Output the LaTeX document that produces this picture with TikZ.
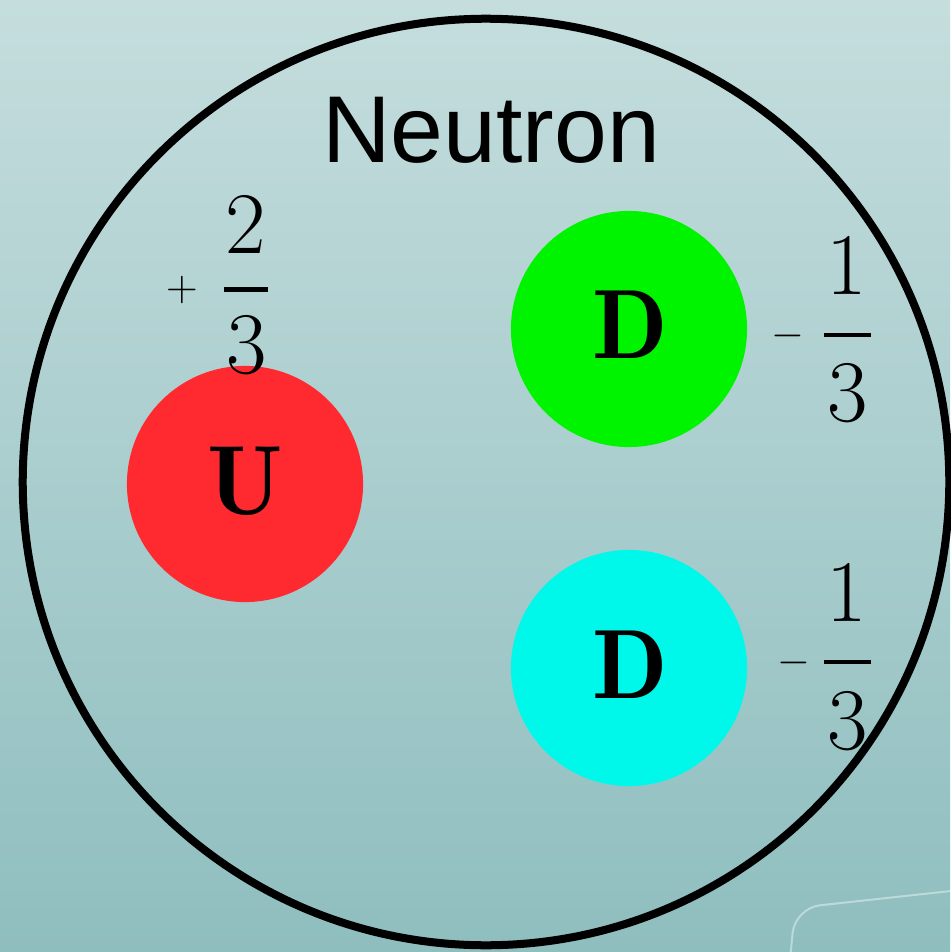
\documentclass[tikz,border=0pt]{standalone}
\usepackage{fontspec}
\newfontfamily\helv{Liberation Sans}
\newfontfamily\qfont{lmromandemi10-regular.otf}
\definecolor{bgtop}{RGB}{197,221,221}
\definecolor{bgmid}{RGB}{186,214,214}
\definecolor{bgbot}{RGB}{143,190,191}
\definecolor{qred}{RGB}{255,42,48}
\definecolor{qgreen}{RGB}{0,244,0}
\definecolor{qcyan}{RGB}{0,248,235}
\tikzset{
  quark/.style={circle, inner sep=0pt, minimum size=2.36cm},
  qletter/.style={inner sep=0pt, font=\qfont\fontsize{28}{31}\selectfont},
  digit/.style={inner sep=0pt, font=\fontsize{25}{28}\selectfont},
  sign/.style={inner sep=0pt, font=\fontsize{13}{15}\selectfont},
  fracbar/.style={line width=0.045cm},
  shell/.style={draw=black, line width=0.08cm}
}
\begin{document}
\begin{tikzpicture}[x=0.01cm,y=-0.01cm]
\useasboundingbox (0,0) rectangle (950,952);
\shade[top color=bgtop, middle color=bgmid, bottom color=bgbot] (0,0) rectangle (950,952);
% faint slide decoration
\draw[white, opacity=0.4, line width=0.02cm, rounded corners=0.25cm] (790,960) -- (795,908) -- (960,890);
% neutron shell
\node (shell) [shell, circle, inner sep=0pt, minimum size=9.26cm] at (486,482) {};
\node (title) [anchor=base, inner sep=0pt, font=\helv\fontsize{27}{30}\selectfont] at (491,163) {Neutron};
% quarks
\node (u) [quark, fill=qred] at (245,484) {};
\node (d1) [quark, fill=qgreen] at (629,329) {};
\node (d2) [quark, fill=qcyan] at (629,668) {};
\node (ul) [qletter] at (245,481) {U};
\node (d1l) [qletter] at (630,325) {D};
\node (d2l) [qletter] at (630,665) {D};
% charge +2/3
\node (us) [sign] at (182,290) {$+$};
\node (un) [digit] at (246,224) {2};
\node (ud) [digit] at (247,345) {3};
\coordinate (ub1) at (224,289.5);
\coordinate (ub2) at (268,289.5);
\draw[fracbar] (ub1) -- (ub2);
% charge -1/3 (top)
\node (d1s) [sign] at (788,336) {$-$};
\node (d1n) [digit] at (847,265) {1};
\node (d1d) [digit] at (848,393) {3};
\coordinate (d1b1) at (824,335);
\coordinate (d1b2) at (871,335);
\draw[fracbar] (d1b1) -- (d1b2);
% charge -1/3 (bottom)
\node (d2s) [sign] at (794,663) {$-$};
\node (d2n) [digit] at (847,592) {1};
\node (d2d) [digit] at (848,721) {3};
\coordinate (d2b1) at (824,662);
\coordinate (d2b2) at (871,662);
\draw[fracbar] (d2b1) -- (d2b2);
\end{tikzpicture}
\end{document}
